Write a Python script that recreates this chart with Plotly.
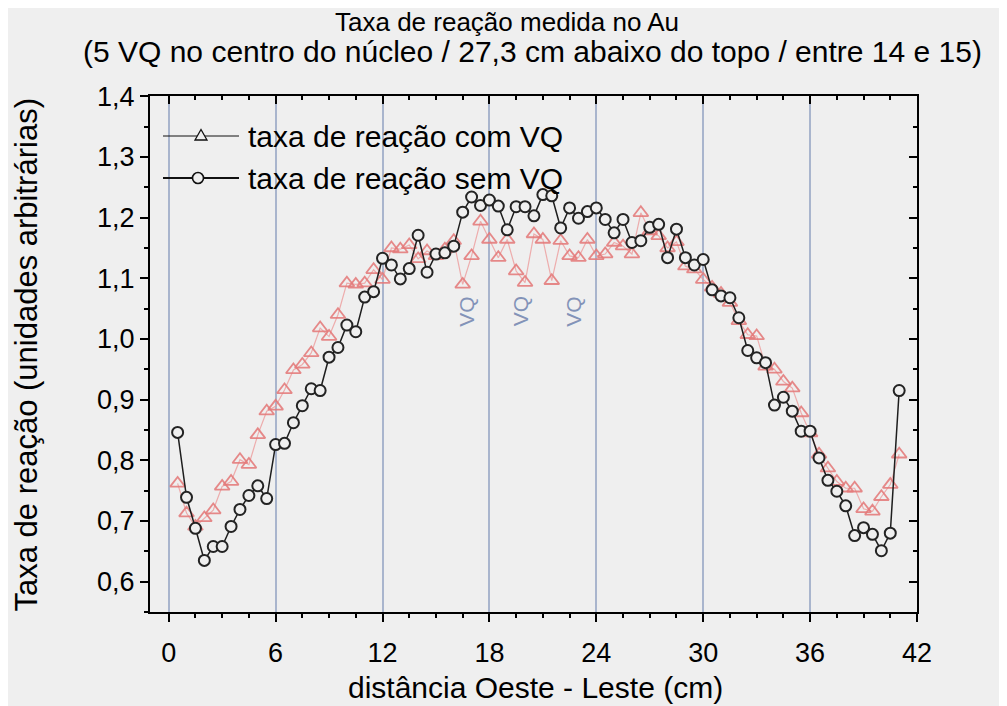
import plotly.graph_objects as go

# ---- data ----
distance_cm = [0.5, 1.0, 1.5, 2.0, 2.5, 3.0, 3.5, 4.0, 4.5, 5.0,
               5.5, 6.0, 6.5, 7.0, 7.5, 8.0, 8.5, 9.0, 9.5, 10.0,
               10.5, 11.0, 11.5, 12.0, 12.5, 13.0, 13.5, 14.0, 14.5, 15.0,
               15.5, 16.0, 16.5, 17.0, 17.5, 18.0, 18.5, 19.0, 19.5, 20.0,
               20.5, 21.0, 21.5, 22.0, 22.5, 23.0, 23.5, 24.0, 24.5, 25.0,
               25.5, 26.0, 26.5, 27.0, 27.5, 28.0, 28.5, 29.0, 29.5, 30.0,
               30.5, 31.0, 31.5, 32.0, 32.5, 33.0, 33.5, 34.0, 34.5, 35.0,
               35.5, 36.0, 36.5, 37.0, 37.5, 38.0, 38.5, 39.0, 39.5, 40.0,
               40.5, 41.0]

taxa_com_vq = [0.762, 0.713, 0.691, 0.705, 0.718, 0.757, 0.765, 0.801, 0.793, 0.842,
               0.881, 0.889, 0.916, 0.949, 0.958, 0.977, 1.018, 1.004, 1.040, 1.092,
               1.090, 1.092, 1.114, 1.098, 1.150, 1.148, 1.155, 1.132, 1.145, 1.137,
               1.148, 1.162, 1.090, 1.137, 1.194, 1.164, 1.134, 1.164, 1.112, 1.093,
               1.173, 1.164, 1.096, 1.162, 1.137, 1.134, 1.164, 1.137, 1.140, 1.159,
               1.153, 1.140, 1.208, 1.178, 1.170, 1.150, 1.160, 1.120, 1.115, 1.098,
               1.085, 1.075, 1.060, 1.030, 1.007, 1.005, 0.955, 0.950, 0.930, 0.919,
               0.878, 0.845, 0.810, 0.787, 0.765, 0.754, 0.754, 0.720, 0.716, 0.740,
               0.760, 0.810]

taxa_sem_vq = [0.846, 0.739, 0.688, 0.635, 0.658, 0.658, 0.691, 0.719, 0.742, 0.758,
               0.737, 0.826, 0.828, 0.862, 0.890, 0.918, 0.915, 0.970, 0.986, 1.023,
               1.012, 1.069, 1.078, 1.133, 1.122, 1.099, 1.116, 1.171, 1.110, 1.140,
               1.142, 1.153, 1.209, 1.234, 1.220, 1.229, 1.219, 1.180, 1.218, 1.218,
               1.203, 1.238, 1.236, 1.183, 1.216, 1.199, 1.210, 1.216, 1.197, 1.175,
               1.197, 1.159, 1.162, 1.184, 1.189, 1.134, 1.181, 1.134, 1.122, 1.131,
               1.081, 1.071, 1.068, 1.035, 0.981, 0.969, 0.961, 0.891, 0.904, 0.881,
               0.848, 0.848, 0.804, 0.767, 0.749, 0.725, 0.676, 0.689, 0.678, 0.651,
               0.680, 0.915]

vq_label_x = [16.75, 19.75, 22.75]
vq_label_y = 1.045
vq_label_text = "VQ"

legend_com = "taxa de reação com VQ"
legend_sem = "taxa de reação sem VQ"
title_line1 = "Taxa de reação medida no Au"
title_line2 = "(5 VQ no centro do núcleo / 27,3 cm abaixo do topo / entre 14 e 15)"
x_title = "distância Oeste - Leste (cm)"
y_title = "Taxa de reação (unidades arbitrárias)"

FONT = "Liberation Sans, Arial, sans-serif"
BG = "#efefef"
PINK_MARK = "rgba(228,122,122,0.88)"
PINK_LINE = "rgba(236,150,150,0.75)"
DARK = "#232323"

fig = go.Figure()

# series with VQ (pink triangles)
fig.add_trace(go.Scatter(
    x=distance_cm, y=taxa_com_vq, mode="lines+markers", showlegend=False,
    name=legend_com,
    line=dict(color=PINK_LINE, width=1.2),
    marker=dict(symbol="triangle-up-open", size=13, color=PINK_MARK,
                line=dict(width=1.8)),
))
# series without VQ (dark circles)
fig.add_trace(go.Scatter(
    x=distance_cm, y=taxa_sem_vq, mode="lines+markers", showlegend=False,
    name=legend_sem,
    line=dict(color="#1e1e1e", width=1.5),
    marker=dict(symbol="circle", size=11, color=BG,
                line=dict(color=DARK, width=2)),
))
# empty trace that carries the mirrored (top / right) axes with inward ticks
fig.add_trace(go.Scatter(x=[None], y=[None], xaxis="x2", yaxis="y2",
                         showlegend=False, hoverinfo="skip"))

xr = [-1.05, 42]
yr = [0.55, 1.4005]

common_x = dict(range=xr, dtick=6, tick0=0, showline=True, linecolor="black",
                linewidth=2, zeroline=False, tickcolor="black", tickwidth=2,
                ticklen=8)
common_y = dict(range=yr, dtick=0.1, tick0=0.6, showline=True, linecolor="black",
                linewidth=2, zeroline=False, tickcolor="black", tickwidth=2,
                ticklen=8, showgrid=False)

fig.update_layout(
    width=1007, height=706,
    margin=dict(l=142, r=98, t=88, b=102),
    paper_bgcolor=BG, plot_bgcolor=BG,
    separators=",.",
    font=dict(family=FONT, color="black", size=26),
    showlegend=False,
    xaxis=dict(**common_x, ticks="outside", showgrid=True,
               gridcolor="#a9b5cd", gridwidth=1.5,
               tickfont=dict(size=27), ticklabelstandoff=8,
               minor=dict(dtick=1.5, tick0=0, ticks="outside", ticklen=4,
                          tickwidth=1.5, tickcolor="black", showgrid=False)),
    yaxis=dict(**common_y, ticks="outside", tickformat=".1f",
               tickfont=dict(size=27),
               minor=dict(dtick=0.05, tick0=0.6, ticks="outside", ticklen=4,
                          tickwidth=1.5, tickcolor="black")),
    xaxis2=dict(**common_x, overlaying="x", side="top", anchor="y",
                ticks="inside", showticklabels=False, showgrid=False,
                minor=dict(dtick=1.5, tick0=0, ticks="inside", ticklen=4,
                           tickwidth=1.5, tickcolor="black")),
    yaxis2=dict(**common_y, overlaying="y", side="right", anchor="x",
                ticks="inside", showticklabels=False,
                minor=dict(dtick=0.05, tick0=0.6, ticks="inside", ticklen=4,
                           tickwidth=1.5, tickcolor="black")),
)

# ---- legend drawn in the reference style (long line, symbol in the middle) ----
plot_l, plot_w, plot_t, plot_h = 142, 767, 88, 516


def px_to_paper_x(px):
    return (px - plot_l) / plot_w


def px_to_paper_y(py):
    return 1 - (py - plot_t) / plot_h


legend_rows = [
    (128, legend_com, 1.0, "triangle"),
    (170, legend_sem, 2.0, "circle"),
]
for row_y, label, lw, sym in legend_rows:
    yy = px_to_paper_y(row_y)
    fig.add_shape(type="line", xref="paper", yref="paper",
                  x0=px_to_paper_x(155), x1=px_to_paper_x(231), y0=yy, y1=yy,
                  line=dict(color="#111111", width=lw))
    if sym == "triangle":
        fig.add_shape(type="path", xref="paper", yref="paper",
                      xsizemode="pixel", ysizemode="pixel",
                      xanchor=px_to_paper_x(193), yanchor=yy,
                      path="M-6,-4 L6,-4 L0,6.5 Z",
                      fillcolor=BG, line=dict(color="#111111", width=1.3))
    else:
        fig.add_shape(type="circle", xref="paper", yref="paper",
                      xsizemode="pixel", ysizemode="pixel",
                      xanchor=px_to_paper_x(190), yanchor=yy,
                      x0=-5.5, x1=5.5, y0=-5.5, y1=5.5,
                      fillcolor=BG, line=dict(color="#111111", width=1.6))
    fig.add_annotation(text=label, xref="paper", yref="paper",
                       x=px_to_paper_x(238), y=yy, xanchor="left",
                       yanchor="middle", showarrow=False,
                       font=dict(size=30, family=FONT))

# titles
fig.add_annotation(text=title_line1, xref="paper", yref="paper",
                   x=0.466, y=1.144, xanchor="center", yanchor="middle",
                   showarrow=False, font=dict(size=26, family=FONT))
fig.add_annotation(text=title_line2, xref="paper", yref="paper",
                   x=0.499, y=1.086, xanchor="center", yanchor="middle",
                   showarrow=False, font=dict(size=30, family=FONT))
fig.add_annotation(text=x_title, xref="paper", yref="paper",
                   x=0.503, y=-0.147, xanchor="center", yanchor="middle",
                   showarrow=False, font=dict(size=30, family=FONT))
fig.add_annotation(text=y_title, xref="paper", yref="paper",
                   x=-0.161, y=0.498, xanchor="center", yanchor="middle",
                   textangle=-90, showarrow=False, font=dict(size=31, family=FONT))

for vx in vq_label_x:
    fig.add_annotation(text=vq_label_text, x=vx, y=vq_label_y, xref="x", yref="y",
                       textangle=-90, showarrow=False,
                       font=dict(size=21, color="#8393b8", family=FONT))

fig.write_html("out.html")
